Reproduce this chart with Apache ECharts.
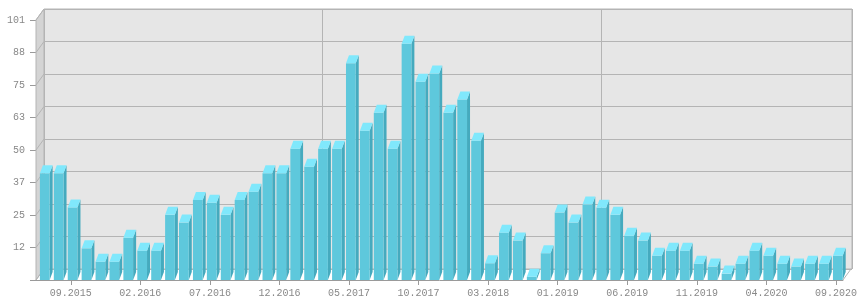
<!DOCTYPE html>
<html><head><meta charset="utf-8">
<script src="https://cdn.jsdelivr.net/npm/echarts@6/dist/echarts.min.js"></script>
<style>html,body{margin:0;padding:0;background:#fff}#c{width:860px;height:300px}</style>
</head><body><div id="c"></div>
<script>
const categories = [
  '07.2015','08.2015','09.2015','10.2015','11.2015','12.2015',
  '01.2016','02.2016','03.2016','04.2016','05.2016','06.2016','07.2016','08.2016','09.2016','10.2016','11.2016','12.2016',
  '01.2017','02.2017','03.2017','04.2017','05.2017','06.2017','07.2017','08.2017','09.2017','10.2017','11.2017','12.2017',
  '01.2018','02.2018','03.2018','09.2018','10.2018','11.2018','12.2018',
  '01.2019','02.2019','03.2019','04.2019','05.2019','06.2019','07.2019','08.2019','09.2019','10.2019','11.2019','12.2019',
  '01.2020','02.2020','03.2020','04.2020','05.2020','06.2020','07.2020','08.2020','09.2020'
];
const values = [
  41.5, 41.5, 28.2, 12.3, 7.1, 7.1, 16.4, 11.4, 11.4, 25.3, 22.3, 31.1, 30.0, 25.3, 31.1, 34.3, 41.5, 41.5, 51.0,
  44.0, 51.0, 51.0, 84.2, 58.0, 65.0, 51.0, 91.8, 77.0, 80.2, 65.0, 70.1, 54.1,
  6.5, 18.4, 15.3, 1.3, 10.4, 26.2, 22.3,
  29.3, 28.1, 25.3, 17.2, 15.3, 9.4, 11.4, 11.4, 6.3, 5.2, 2.5, 6.3, 11.4, 9.4, 6.3, 5.2, 6.3, 6.3, 9.4
];
const yTicks = [0, 12.625, 25.25, 37.875, 50.5, 63.125, 75.75, 88.375, 101];
const yMin = 0, yMax = 101, yInterval = 12.625;
const labelStart = 2, labelEvery = 5;

const FRONT = '#5ec8dc', SIDE = '#45aabe', TOP = '#80e8fc';
const WALL = '#e6e6e6', SIDEWALL = '#d4d4d4', GRIDLINE = '#b4b4b4', AXIS = '#9a9a9a', TEXT = '#888';
const DX = 8, DY = 11;     // back-wall offset
const BDX = 3, BDY = 8;    // bar depth
const FONT = 'Liberation Mono';

const showIdx = (i) => i >= labelStart && (i - labelStart) % labelEvery === 0;

const chart = echarts.init(document.getElementById('c'), null, {renderer: 'canvas'});
chart.setOption({
  animation: false,
  grid: [
    {left: 36, right: 16, top: 20, bottom: 20},
    {left: 36 + DX, right: 16 - DX, top: 20 - DY, bottom: 20 + DY, show: true,
     backgroundColor: WALL, borderColor: GRIDLINE, borderWidth: 1}
  ],
  xAxis: [
    {type: 'category', gridIndex: 0, data: categories,
     axisLine: {show: true, lineStyle: {color: AXIS}},
     axisTick: {show: true, alignWithLabel: true, interval: showIdx, length: 5, lineStyle: {color: AXIS}},
     axisLabel: {interval: showIdx, color: TEXT, fontFamily: FONT, fontSize: 10, margin: 8},
     splitLine: {show: false}},
    {type: 'category', gridIndex: 1, data: categories,
     axisLine: {show: false}, axisTick: {show: false}, axisLabel: {show: false},
     splitLine: {show: true, interval: 19, lineStyle: {color: GRIDLINE}}}
  ],
  yAxis: [
    {type: 'value', gridIndex: 0, min: yMin, max: yMax, interval: yInterval,
     axisLine: {show: true, lineStyle: {color: AXIS}},
     axisTick: {show: true, length: 6, lineStyle: {color: AXIS}},
     axisLabel: {color: TEXT, fontFamily: FONT, fontSize: 10, margin: 11,
       formatter: v => v === 0 ? '' : String(Math.floor(v + 1e-9))},
     splitLine: {show: false}},
    {type: 'value', gridIndex: 1, min: yMin, max: yMax, interval: yInterval,
     axisLine: {show: false}, axisTick: {show: false}, axisLabel: {show: false},
     splitLine: {show: true, lineStyle: {color: GRIDLINE}}}
  ],
  series: [
    {
      type: 'custom', xAxisIndex: 0, yAxisIndex: 0, z: 1, clip: false, silent: true,
      data: yTicks.map(v => [0, v]),
      renderItem(params, api) {
        const v = api.value(1);
        const bw = api.size([1, 0])[0];
        const p = api.coord([0, v]);
        const xl = p[0] - bw / 2;
        const children = [];
        if (params.dataIndex === 0) {
          const top = api.coord([0, yMax]);
          const right = api.coord([categories.length - 1, 0]);
          const xr = right[0] + bw / 2;
          children.push({type: 'polygon',
            shape: {points: [[xl, top[1]], [xl + DX, top[1] - DY], [xl + DX, p[1] - DY], [xl, p[1]]]},
            style: {fill: SIDEWALL, stroke: GRIDLINE, lineWidth: 1}});
          children.push({type: 'line', shape: {x1: xr, y1: p[1], x2: xr + DX, y2: p[1] - DY},
            style: {stroke: GRIDLINE, lineWidth: 1}});
        }
        children.push({type: 'line', shape: {x1: xl, y1: p[1], x2: xl + DX, y2: p[1] - DY},
          style: {stroke: GRIDLINE, lineWidth: 1}});
        return {type: 'group', children};
      }
    },
    {
      type: 'custom', xAxisIndex: 0, yAxisIndex: 0, z: 3, clip: false,
      data: values.map((v, i) => [i, v]),
      renderItem(params, api) {
        const idx = api.value(0), v = api.value(1);
        const p = api.coord([idx, v]);
        const b = api.coord([idx, 0]);
        const bw = api.size([1, 0])[0];
        const x0 = p[0] - bw / 2 + bw * 0.28;
        const w = bw * 0.7;
        const yt = p[1], yb = b[1];
        return {type: 'group', children: [
          {type: 'polygon', shape: {points: [[x0 + w, yt], [x0 + w + BDX, yt - BDY], [x0 + w + BDX, yb - BDY], [x0 + w, yb]]},
           style: {fill: SIDE}},
          {type: 'rect', shape: {x: x0, y: yt, width: w, height: yb - yt}, style: {fill: FRONT}},
          {type: 'polygon', shape: {points: [[x0, yt], [x0 + BDX, yt - BDY], [x0 + w + BDX, yt - BDY], [x0 + w, yt]]},
           style: {fill: TOP}}
        ]};
      }
    }
  ]
});
</script>
</body></html>
